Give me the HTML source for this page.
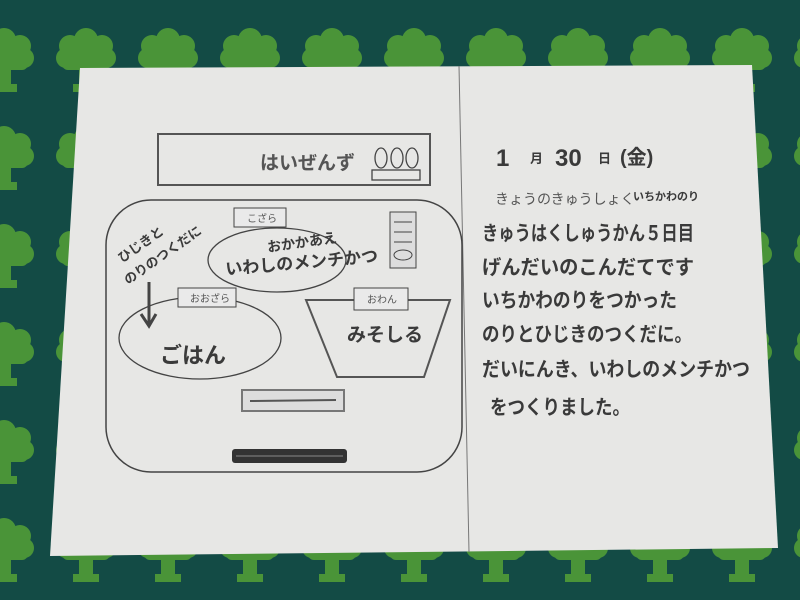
<!DOCTYPE html>
<html><head><meta charset="utf-8"><style>
html,body{margin:0;padding:0;width:800px;height:600px;overflow:hidden;background:#134b45}
svg{display:block}
.h{font-family:"Liberation Sans","Noto Sans CJK JP",sans-serif;fill:#3a3a3a;font-weight:bold}
.p{font-family:"Liberation Sans","Noto Sans CJK JP",sans-serif;fill:#555}
</style></head><body>
<svg width="800" height="600" viewBox="0 0 800 600" xmlns="http://www.w3.org/2000/svg">
<defs>
<pattern id="b" x="48" y="28" width="82" height="98" patternUnits="userSpaceOnUse">
<g fill="#4a9438">
<circle cx="22" cy="18" r="11"/><circle cx="38" cy="12" r="12"/><circle cx="54" cy="18" r="11"/>
<circle cx="18" cy="30" r="10"/><circle cx="58" cy="30" r="10"/>
<rect x="14" y="18" width="48" height="24" rx="6"/>
<rect x="31" y="40" width="14" height="18"/>
<path d="M25 56 h26 v8 h-26z"/>
</g>
</pattern>
</defs>
<rect width="800" height="600" fill="#134b45"/>
<rect width="800" height="600" fill="url(#b)"/>
<polygon points="80,68 752,65 778,548 50,556" fill="#e7e7e5"/>
<line x1="459" y1="66" x2="469" y2="552" stroke="#777" stroke-width="1"/>
<rect x="158" y="134" width="272" height="51" fill="none" stroke="#555" stroke-width="2"/>
<text x="260" y="169" class="p" font-size="19" style="font-weight:bold">はいぜんず</text>
<g fill="none" stroke="#444" stroke-width="1.3">
<ellipse cx="381" cy="158" rx="6" ry="10"/><ellipse cx="397" cy="158" rx="6" ry="10"/><ellipse cx="412" cy="158" rx="6" ry="10"/>
<rect x="372" y="170" width="48" height="10"/>
</g>
<rect x="106" y="200" width="356" height="272" rx="45" fill="none" stroke="#444" stroke-width="1.5"/>
<ellipse cx="277" cy="260" rx="69" ry="32" fill="none" stroke="#444" stroke-width="1.3"/>
<rect x="234" y="208" width="52" height="19" fill="#eaeaea" stroke="#444"/>
<text x="247" y="222" class="p" font-size="10">こざら</text>
<text x="268" y="252" class="h" font-size="14" transform="rotate(-8 268 252)">おかかあえ</text>
<text x="226" y="275" class="h" font-size="17" transform="rotate(-5 226 275)">いわしのメンチかつ</text>
<rect x="390" y="212" width="26" height="56" fill="#ddd" stroke="#444"/>
<g stroke="#444" stroke-width="1" fill="none"><path d="M394 222h18M394 232h18M394 242h18"/><ellipse cx="403" cy="255" rx="9" ry="5"/></g>
<text x="122" y="263" class="h" font-size="13" transform="rotate(-35 122 263)">ひじきと</text>
<text x="128" y="285" class="h" font-size="13" transform="rotate(-35 128 285)">のりのつくだに</text>
<path d="M149 282 L149 325 M141 314 L149 326 L156 314" stroke="#444" stroke-width="3" fill="none"/>
<ellipse cx="200" cy="338" rx="81" ry="41" fill="none" stroke="#444" stroke-width="1.3"/>
<rect x="178" y="288" width="58" height="19" fill="#eaeaea" stroke="#444"/>
<text x="190" y="302" class="p" font-size="10">おおざら</text>
<text x="160" y="363" class="h" font-size="22">ごはん</text>
<polygon points="306,300 450,300 424,377 337,377" fill="none" stroke="#555" stroke-width="2"/>
<rect x="354" y="288" width="54" height="22" fill="#eaeaea" stroke="#444"/>
<text x="367" y="303" class="p" font-size="10">おわん</text>
<text x="347" y="341" class="h" font-size="19">みそしる</text>
<rect x="242" y="390" width="102" height="21" fill="#ddd" stroke="#777" stroke-width="2"/>
<line x1="250" y1="401" x2="336" y2="400" stroke="#555" stroke-width="2"/>
<rect x="232" y="449" width="115" height="14" rx="3" fill="#333"/>
<line x1="236" y1="456" x2="343" y2="456" stroke="#888" stroke-width="1"/>
<text x="496" y="166" class="h" font-size="24">1</text>
<text x="530" y="163" class="h" font-size="13">月</text>
<text x="555" y="166" class="h" font-size="24">30</text>
<text x="598" y="163" class="h" font-size="13">日</text>
<text x="620" y="164" class="h" font-size="20">(金)</text>
<text x="495" y="204" class="p" font-size="14">きょうのきゅうしょく</text>
<text x="633" y="200" class="h" font-size="11">いちかわのり</text>
<text x="482" y="240" class="h" font-size="20" textLength="212" lengthAdjust="spacingAndGlyphs">きゅうはくしゅうかん５日目</text>
<text x="482" y="274" class="h" font-size="20" textLength="212" lengthAdjust="spacingAndGlyphs">げんだいのこんだてです</text>
<text x="482" y="307" class="h" font-size="20" textLength="195" lengthAdjust="spacingAndGlyphs">いちかわのりをつかった</text>
<text x="482" y="341" class="h" font-size="20" textLength="210" lengthAdjust="spacingAndGlyphs">のりとひじきのつくだに。</text>
<text x="482" y="376" class="h" font-size="20" textLength="268" lengthAdjust="spacingAndGlyphs">だいにんき、いわしのメンチかつ</text>
<text x="490" y="414" class="h" font-size="20" textLength="140" lengthAdjust="spacingAndGlyphs">をつくりました。</text>
</svg>
</body></html>
